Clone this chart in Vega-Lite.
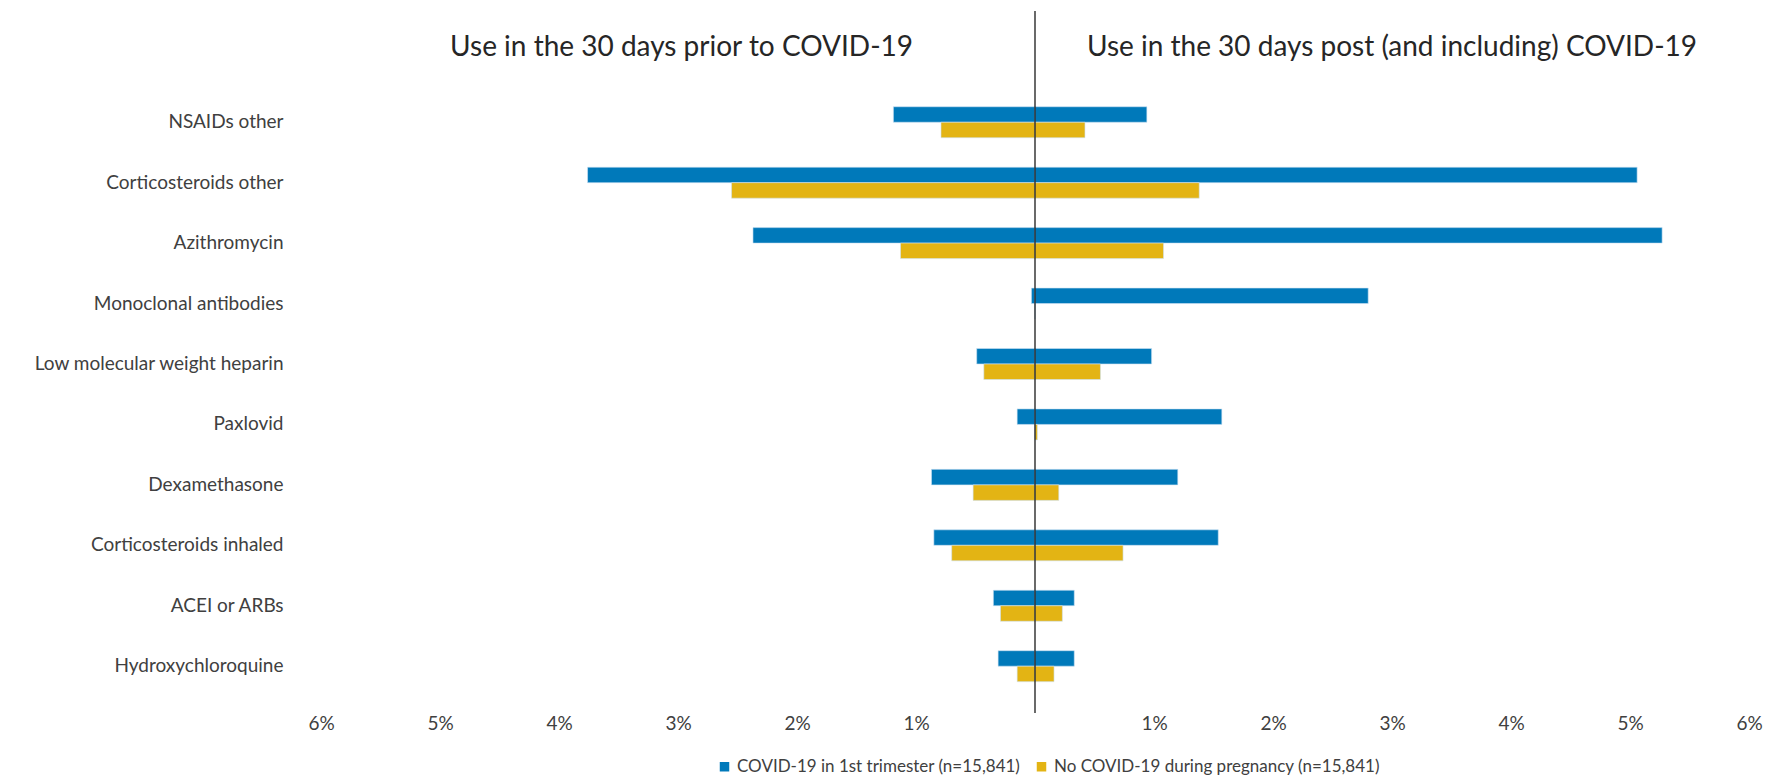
{
  "$schema": "https://vega.github.io/schema/vega-lite/v6.json",
  "autosize": "none",
  "width": 1428,
  "height": 702,
  "padding": {"left": 321, "top": 11, "right": 24, "bottom": 67},
  "background": "white",
  "config": {
    "view": {"stroke": null},
    "font": "Lato",
    "axis": {"labelFont": "Lato", "labelColor": "#404040"}
  },
  "layer": [
    {
      "data": {
        "values": [
          {"drug": "NSAIDs other", "cohort": "COVID-19 in 1st trimester (n=15,841)", "period": "prior", "pct": -1.19},
          {"drug": "NSAIDs other", "cohort": "COVID-19 in 1st trimester (n=15,841)", "period": "post", "pct": 0.94},
          {"drug": "NSAIDs other", "cohort": "No COVID-19 during pregnancy (n=15,841)", "period": "prior", "pct": -0.79},
          {"drug": "NSAIDs other", "cohort": "No COVID-19 during pregnancy (n=15,841)", "period": "post", "pct": 0.42},
          {"drug": "Corticosteroids other", "cohort": "COVID-19 in 1st trimester (n=15,841)", "period": "prior", "pct": -3.76},
          {"drug": "Corticosteroids other", "cohort": "COVID-19 in 1st trimester (n=15,841)", "period": "post", "pct": 5.06},
          {"drug": "Corticosteroids other", "cohort": "No COVID-19 during pregnancy (n=15,841)", "period": "prior", "pct": -2.55},
          {"drug": "Corticosteroids other", "cohort": "No COVID-19 during pregnancy (n=15,841)", "period": "post", "pct": 1.38},
          {"drug": "Azithromycin", "cohort": "COVID-19 in 1st trimester (n=15,841)", "period": "prior", "pct": -2.37},
          {"drug": "Azithromycin", "cohort": "COVID-19 in 1st trimester (n=15,841)", "period": "post", "pct": 5.27},
          {"drug": "Azithromycin", "cohort": "No COVID-19 during pregnancy (n=15,841)", "period": "prior", "pct": -1.13},
          {"drug": "Azithromycin", "cohort": "No COVID-19 during pregnancy (n=15,841)", "period": "post", "pct": 1.08},
          {"drug": "Monoclonal antibodies", "cohort": "COVID-19 in 1st trimester (n=15,841)", "period": "prior", "pct": -0.03},
          {"drug": "Monoclonal antibodies", "cohort": "COVID-19 in 1st trimester (n=15,841)", "period": "post", "pct": 2.8},
          {"drug": "Monoclonal antibodies", "cohort": "No COVID-19 during pregnancy (n=15,841)", "period": "prior", "pct": 0},
          {"drug": "Monoclonal antibodies", "cohort": "No COVID-19 during pregnancy (n=15,841)", "period": "post", "pct": 0},
          {"drug": "Low molecular weight heparin", "cohort": "COVID-19 in 1st trimester (n=15,841)", "period": "prior", "pct": -0.49},
          {"drug": "Low molecular weight heparin", "cohort": "COVID-19 in 1st trimester (n=15,841)", "period": "post", "pct": 0.98},
          {"drug": "Low molecular weight heparin", "cohort": "No COVID-19 during pregnancy (n=15,841)", "period": "prior", "pct": -0.43},
          {"drug": "Low molecular weight heparin", "cohort": "No COVID-19 during pregnancy (n=15,841)", "period": "post", "pct": 0.55},
          {"drug": "Paxlovid", "cohort": "COVID-19 in 1st trimester (n=15,841)", "period": "prior", "pct": -0.15},
          {"drug": "Paxlovid", "cohort": "COVID-19 in 1st trimester (n=15,841)", "period": "post", "pct": 1.57},
          {"drug": "Paxlovid", "cohort": "No COVID-19 during pregnancy (n=15,841)", "period": "prior", "pct": 0},
          {"drug": "Paxlovid", "cohort": "No COVID-19 during pregnancy (n=15,841)", "period": "post", "pct": 0.02},
          {"drug": "Dexamethasone", "cohort": "COVID-19 in 1st trimester (n=15,841)", "period": "prior", "pct": -0.87},
          {"drug": "Dexamethasone", "cohort": "COVID-19 in 1st trimester (n=15,841)", "period": "post", "pct": 1.2},
          {"drug": "Dexamethasone", "cohort": "No COVID-19 during pregnancy (n=15,841)", "period": "prior", "pct": -0.52},
          {"drug": "Dexamethasone", "cohort": "No COVID-19 during pregnancy (n=15,841)", "period": "post", "pct": 0.2},
          {"drug": "Corticosteroids inhaled", "cohort": "COVID-19 in 1st trimester (n=15,841)", "period": "prior", "pct": -0.85},
          {"drug": "Corticosteroids inhaled", "cohort": "COVID-19 in 1st trimester (n=15,841)", "period": "post", "pct": 1.54},
          {"drug": "Corticosteroids inhaled", "cohort": "No COVID-19 during pregnancy (n=15,841)", "period": "prior", "pct": -0.7},
          {"drug": "Corticosteroids inhaled", "cohort": "No COVID-19 during pregnancy (n=15,841)", "period": "post", "pct": 0.74},
          {"drug": "ACEI or ARBs", "cohort": "COVID-19 in 1st trimester (n=15,841)", "period": "prior", "pct": -0.35},
          {"drug": "ACEI or ARBs", "cohort": "COVID-19 in 1st trimester (n=15,841)", "period": "post", "pct": 0.33},
          {"drug": "ACEI or ARBs", "cohort": "No COVID-19 during pregnancy (n=15,841)", "period": "prior", "pct": -0.29},
          {"drug": "ACEI or ARBs", "cohort": "No COVID-19 during pregnancy (n=15,841)", "period": "post", "pct": 0.23},
          {"drug": "Hydroxychloroquine", "cohort": "COVID-19 in 1st trimester (n=15,841)", "period": "prior", "pct": -0.31},
          {"drug": "Hydroxychloroquine", "cohort": "COVID-19 in 1st trimester (n=15,841)", "period": "post", "pct": 0.33},
          {"drug": "Hydroxychloroquine", "cohort": "No COVID-19 during pregnancy (n=15,841)", "period": "prior", "pct": -0.15},
          {"drug": "Hydroxychloroquine", "cohort": "No COVID-19 during pregnancy (n=15,841)", "period": "post", "pct": 0.16}
        ]
      },
      "mark": {"type": "bar", "stroke": "#cfe3f3", "strokeWidth": 0.6},
      "encoding": {
        "y": {
          "field": "drug",
          "type": "nominal",
          "sort": null,
          "scale": {
            "domain": ["header", "NSAIDs other", "Corticosteroids other", "Azithromycin", "Monoclonal antibodies", "Low molecular weight heparin", "Paxlovid", "Dexamethasone", "Corticosteroids inhaled", "ACEI or ARBs", "Hydroxychloroquine"],
            "paddingInner": 0.487,
            "paddingOuter": 0.551,
            "align": 0.53
          },
          "axis": {
            "title": null,
            "ticks": false,
            "domain": false,
            "grid": false,
            "labelFontSize": 19,
            "labelPadding": 38,
            "labelLimit": 400,
            "labelExpr": "datum.value == 'header' ? '' : datum.value"
          }
        },
        "yOffset": {
          "field": "cohort",
          "type": "nominal",
          "sort": ["COVID-19 in 1st trimester (n=15,841)", "No COVID-19 during pregnancy (n=15,841)"],
          "scale": {"paddingInner": 0, "paddingOuter": 0}
        },
        "x": {
          "field": "pct",
          "type": "quantitative",
          "scale": {"domain": [-6, 6], "nice": false, "zero": false},
          "axis": {
            "title": null,
            "values": [-6, -5, -4, -3, -2, -1, 0, 1, 2, 3, 4, 5, 6],
            "labelExpr": "datum.value == 0 ? '' : format(abs(datum.value), 'd') + '%'",
            "labelFlush": false,
            "labelOverlap": false,
            "grid": false,
            "ticks": false,
            "domain": false,
            "labelFontSize": 19,
            "labelPadding": 1
          }
        },
        "color": {
          "field": "cohort",
          "type": "nominal",
          "scale": {
            "domain": ["COVID-19 in 1st trimester (n=15,841)", "No COVID-19 during pregnancy (n=15,841)"],
            "range": ["#0079BA", "#E3B414"]
          },
          "legend": {
            "title": null,
            "orient": "none",
            "direction": "horizontal",
            "legendX": 395,
            "legendY": 747,
            "symbolType": "square",
            "symbolSize": 90,
            "symbolStrokeWidth": 0,
            "labelFontSize": 17,
            "labelColor": "#404040",
            "labelFont": "Lato",
            "labelLimit": 500,
            "columnPadding": 12,
            "labelOffset": 4
          }
        }
      }
    },
    {
      "data": {"values": [{"zero": 0}]},
      "mark": {"type": "rule", "color": "#1a1a1a", "strokeWidth": 1.3},
      "encoding": {
        "x": {"field": "zero", "type": "quantitative"}
      }
    },
    {
      "data": {
        "values": [
          {"drug": "header", "pos": -2.97, "label": "Use in the 30 days prior to COVID-19"},
          {"drug": "header", "pos": 3.0, "label": "Use in the 30 days post (and including) COVID-19"}
        ]
      },
      "mark": {"type": "text", "fontSize": 28, "font": "Lato", "color": "#262626", "align": "center", "baseline": "middle", "dy": -14},
      "encoding": {
        "y": {"field": "drug", "type": "nominal"},
        "x": {"field": "pos", "type": "quantitative"},
        "text": {"field": "label"}
      }
    }
  ]
}
